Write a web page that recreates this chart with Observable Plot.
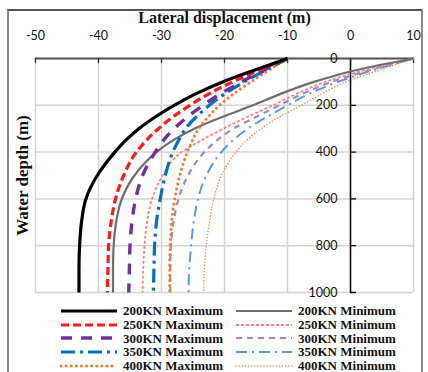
<!DOCTYPE html>
<html>
<head>
<meta charset="utf-8">
<script src="https://cdn.jsdelivr.net/npm/d3@7"></script>
<script src="https://cdn.jsdelivr.net/npm/@observablehq/plot@0.6"></script>
<style>
  html, body { margin: 0; padding: 0; background: #fff; }
  #frame { position: absolute; left: 7px; top: 9px; width: 412px; height: 380px;
           border-top: 2px solid #555; border-left: 2px solid #888; border-right: 2px solid #888; }
  #chart { position: absolute; left: 0; top: 0; }
  #legend { position: absolute; left: 60px; top: 304px; display: grid;
            grid-template-columns: 175px 175px; }
  .item { display: flex; align-items: center; height: 13.8px; }
  .item span { margin-left: 5px; font: bold 13px "Liberation Serif", serif; color: #111; white-space: nowrap; }
</style>
</head>
<body>
<div id="frame"></div>
<div id="chart"></div>
<div id="legend"></div>
<script>
// ---- data ----
const depths = [0, 50, 100, 150, 200, 250, 300, 350, 400, 500, 600, 700, 800, 900, 1000];
const max200 = [-10, -15.3, -20.3, -24.5, -28.0, -31.0, -33.6, -35.7, -37.4, -40.2, -42.0, -42.7, -43.0, -43.1, -43.1];
const max250 = [-10, -14.5, -18.7, -22.4, -25.5, -28.2, -30.5, -32.4, -34.0, -36.0, -37.3, -38.0, -38.4, -38.5, -38.6];
const max300 = [-10, -13.8, -17.3, -20.6, -23.4, -25.9, -28.0, -29.7, -31.0, -33.0, -34.1, -34.7, -35.0, -35.1, -35.2];
const max350 = [-10, -13.5, -16.9, -19.9, -22.4, -24.5, -26.2, -27.3, -28.2, -29.4, -30.2, -30.8, -31.1, -31.2, -31.3];
const max400 = [-10, -13.0, -15.8, -18.5, -20.8, -22.6, -24.1, -25.1, -25.9, -27.1, -27.9, -28.4, -28.6, -28.7, -28.7];
const min200 = [10, 0.8, -5.8, -11.0, -15.5, -20.4, -24.8, -28.2, -30.8, -34.3, -36.3, -37.2, -37.6, -37.7, -37.7];
const min250 = [10, 2.2, -4.0, -8.5, -12.3, -16.4, -20.2, -23.7, -26.8, -29.8, -31.5, -32.3, -32.7, -32.9, -33.0];
const min300 = [10, 3.0, -3.0, -7.5, -11.3, -15.0, -18.6, -21.2, -23.2, -25.8, -27.3, -28.1, -28.5, -28.6, -28.6];
const min350 = [10, 3.5, -2.0, -6.5, -10.0, -13.3, -16.3, -18.7, -20.5, -22.9, -24.2, -24.9, -25.3, -25.6, -25.7];
const min400 = [10, 4.5, -0.8, -4.5, -7.8, -11.3, -14.2, -16.5, -18.2, -20.5, -21.7, -22.4, -22.9, -23.2, -23.3];
const seriesNames = ["200KN Maximum", "200KN Minimum", "250KN Maximum", "250KN Minimum",
  "300KN Maximum", "300KN Minimum", "350KN Maximum", "350KN Minimum", "400KN Maximum", "400KN Minimum"];
const seriesValues = [max200, min200, max250, min250, max300, min300, max350, min350, max400, min400];
const xTicks = [-50, -40, -30, -20, -10, 0, 10];
const yTicks = [0, 200, 400, 600, 800, 1000];
const xTitle = "Lateral displacement (m)";
const yTitle = "Water depth (m)";

// ---- styles ----
const styles = [
  {stroke: "#000000", width: 3.2, dash: null, cap: "butt"},
  {stroke: "#6e6e6e", width: 2.2, dash: null, cap: "butt"},
  {stroke: "#ff1a1a", width: 3.2, dash: "8,4", cap: "butt"},
  {stroke: "#ff8080", width: 1.8, dash: "3,2", cap: "butt"},
  {stroke: "#7030a0", width: 3.4, dash: "11,9", cap: "butt"},
  {stroke: "#a283d3", width: 2.2, dash: "6,5", cap: "butt"},
  {stroke: "#0070c0", width: 3.2, dash: "14,5,3,5", cap: "butt"},
  {stroke: "#5b9bd5", width: 2, dash: "11,5,2,5", cap: "butt"},
  {stroke: "#ed7d31", width: 3, dash: "0.1,5", cap: "round"},
  {stroke: "#f28a4a", width: 1.5, dash: "0.1,3", cap: "round"}
];

const tickShape = {draw(context, length) { context.moveTo(0, 0); context.lineTo(0, -length); }};

const lineMarks = seriesValues.map((vals, i) => Plot.line(
  depths.map((d, j) => ({depth: d, value: vals[j]})),
  {x: "value", y: "depth", curve: "monotone-y",
   stroke: styles[i].stroke, strokeWidth: styles[i].width,
   strokeDasharray: styles[i].dash, strokeLinecap: styles[i].cap}
));
const order = [9, 7, 5, 3, 1, 8, 6, 4, 2, 0];

const chart = Plot.plot({
  width: 428, height: 300,
  marginLeft: 35, marginRight: 15, marginTop: 58, marginBottom: 8,
  style: {fontFamily: "Lato, sans-serif", fontSize: "12px", color: "#111"},
  x: {domain: [-50, 10], axis: null},
  y: {domain: [0, 1000], reverse: true, axis: null},
  marks: [
    Plot.gridX(xTicks, {stroke: "#d4d4d4", strokeOpacity: 1, strokeWidth: 1.5}),
    Plot.gridY(yTicks, {stroke: "#d4d4d4", strokeOpacity: 1, strokeWidth: 1.5}),
    Plot.ruleX([0], {stroke: "#000", strokeWidth: 1.5}),
    Plot.ruleY([0], {stroke: "#555", strokeWidth: 2}),
    Plot.vector(xTicks, {x: d => d, frameAnchor: "top", length: 4, rotate: 180, anchor: "start",
      shape: tickShape, stroke: "#333", strokeWidth: 1.3}),
    Plot.vector(yTicks.slice(1), {x: 0, y: d => d, length: 5, rotate: 90, anchor: "start",
      shape: tickShape, stroke: "#000", strokeWidth: 1.3}),
    ...order.map(i => lineMarks[i]),
    Plot.text(xTicks, {x: d => d, frameAnchor: "top", lineAnchor: "middle", dy: -23,
      text: d => String(d), fontSize: 12.5, fill: "#111"}),
    Plot.text(yTicks, {x: 0, y: d => d, dx: -13, text: d => String(d), textAnchor: "end",
      lineAnchor: "middle", fontSize: 12.5, fill: "#111"}),
    Plot.text([xTitle], {frameAnchor: "top", lineAnchor: "middle", textAnchor: "middle", dy: -41,
      text: d => d, fontSize: 16, fontWeight: "bold", fontFamily: "Liberation Serif", fill: "#111"}),
    Plot.text([yTitle], {frameAnchor: "left", textAnchor: "middle", lineAnchor: "middle", dx: -13,
      rotate: -90, text: d => d, fontSize: 17, fontWeight: "bold",
      fontFamily: "Liberation Serif", fill: "#111"})
  ]
});
document.getElementById("chart").appendChild(chart);

// ---- legend ----
const legend = document.getElementById("legend");
seriesNames.forEach((name, i) => {
  const s = styles[i];
  const item = document.createElement("div");
  item.className = "item";
  item.innerHTML = `<svg width="58" height="10"><line x1="1" x2="57" y1="5" y2="5" stroke="${s.stroke}"
    stroke-width="${s.width}" ${s.dash ? `stroke-dasharray="${s.dash}"` : ""} stroke-linecap="${s.cap}"/></svg><span>${name}</span>`;
  legend.appendChild(item);
});
</script>
</body>
</html>
